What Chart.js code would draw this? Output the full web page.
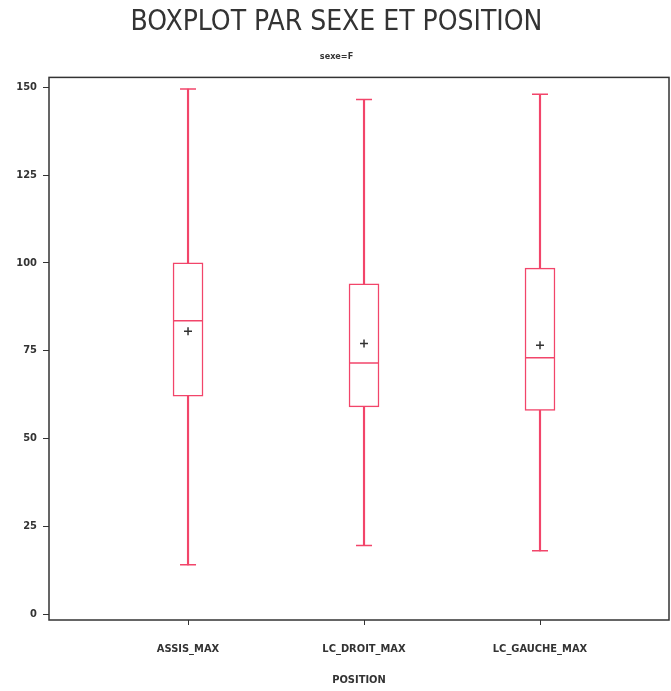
<!DOCTYPE html>
<html><head><meta charset="utf-8">
<script src="https://cdn.jsdelivr.net/npm/chart.js@4"></script>
<style>html,body{margin:0;padding:0;background:#fff}#w{width:671px;height:691px}</style>
</head><body><div id="w"><canvas id="c"></canvas></div>
<script>
const categories = ['ASSIS_MAX', 'LC_DROIT_MAX', 'LC_GAUCHE_MAX'];
const whiskerMin = [14, 19.5, 18];
const q1 = [62, 59, 58];
const median = [83.5, 71.5, 73];
const q3 = [100, 94, 98.5];
const whiskerMax = [149.5, 146.5, 148];
const means = [80.5, 77, 76.5];
const yTicks = [0, 25, 50, 75, 100, 125, 150];

const RED = '#f2456a';
const FONT = "'Liberation Sans Narrow','DejaVu Sans Condensed','Liberation Sans',sans-serif";
const xs = categories.map((_, i) => i + 1);
const pts = arr => arr.map((v, i) => ({x: xs[i], y: v}));
const rng = (a, b) => a.map((v, i) => ({x: xs[i], y: [v, b[i]]}));

const framePlugin = {
  id: 'frame',
  afterDraw(chart) {
    const {ctx, chartArea: a} = chart;
    ctx.save();
    ctx.strokeStyle = '#333';
    ctx.lineWidth = 1.5;
    ctx.strokeRect(a.left, a.top, a.right - a.left, a.bottom - a.top);
    ctx.restore();
  }
};

new Chart(document.getElementById('c'), {
  type: 'bar',
  data: {
    datasets: [
      {type: 'bar', data: rng(whiskerMin, q1), barThickness: 1.5, backgroundColor: RED, borderWidth: 0, grouped: false, order: 5},
      {type: 'bar', data: rng(q3, whiskerMax), barThickness: 1.5, backgroundColor: RED, borderWidth: 0, grouped: false, order: 5},
      {type: 'bar', data: rng(q1, q3), barThickness: 30, backgroundColor: '#ffffff', borderColor: RED, borderWidth: 1.5, borderSkipped: false, grouped: false, order: 4},
      {type: 'line', data: pts(median), showLine: false, pointStyle: 'line', pointRadius: 15, borderColor: RED, borderWidth: 1.5, order: 3},
      {type: 'line', data: pts(whiskerMin), showLine: false, pointStyle: 'line', pointRadius: 8, borderColor: RED, borderWidth: 1.5, order: 3},
      {type: 'line', data: pts(whiskerMax), showLine: false, pointStyle: 'line', pointRadius: 8, borderColor: RED, borderWidth: 1.5, order: 3},
      {type: 'line', data: pts(means), showLine: false, pointStyle: 'cross', pointRadius: 4, borderColor: '#333', borderWidth: 1.5, order: 1}
    ]
  },
  options: {
    responsive: true,
    maintainAspectRatio: false,
    animation: false,
    events: [],
    layout: {autoPadding: false, padding: {left: 4, right: 2, top: 0, bottom: 0}},
    plugins: {
      legend: {display: false},
      tooltip: {enabled: false},
      title: {display: true, text: 'BOXPLOT PAR SEXE ET POSITION', color: '#333',
        font: {family: FONT, size: 28, weight: 'normal'}, padding: {top: 6, bottom: 6}},
      subtitle: {display: true, text: 'sexe=F', color: '#333',
        font: {family: FONT, size: 9, weight: 'bold'}, padding: {top: 6, bottom: 15}}
    },
    scales: {
      x: {
        type: 'linear', min: 0.21, max: 3.733, offset: false,
        afterBuildTicks: s => { s.ticks = xs.map(v => ({value: v})); },
        afterFit: s => { s.height = 71; s.paddingLeft = 0; s.paddingRight = 0; },
        ticks: {callback: v => categories[v - 1] || '', color: '#333', autoSkip: false, maxRotation: 0,
          font: {family: FONT, size: 11, weight: 'bold'}, padding: 18},
        grid: {offset: false, drawOnChartArea: false, drawTicks: true, tickLength: 5, color: '#333'},
        border: {display: false},
        title: {display: true, text: 'POSITION', color: '#333', font: {family: FONT, size: 11, weight: 'bold'}, padding: {top: 6}}
      },
      y: {
        type: 'linear', min: -1.7, max: 152.8,
        afterBuildTicks: s => { s.ticks = yTicks.map(v => ({value: v})); },
        afterFit: s => { s.width = 45; },
        ticks: {color: '#333', font: {family: FONT, size: 11, weight: 'bold'}, padding: 6, includeBounds: false},
        grid: {drawOnChartArea: false, drawTicks: true, tickLength: 6, color: '#333'},
        border: {display: false}
      }
    }
  },
  plugins: [framePlugin]
});
</script></body></html>
